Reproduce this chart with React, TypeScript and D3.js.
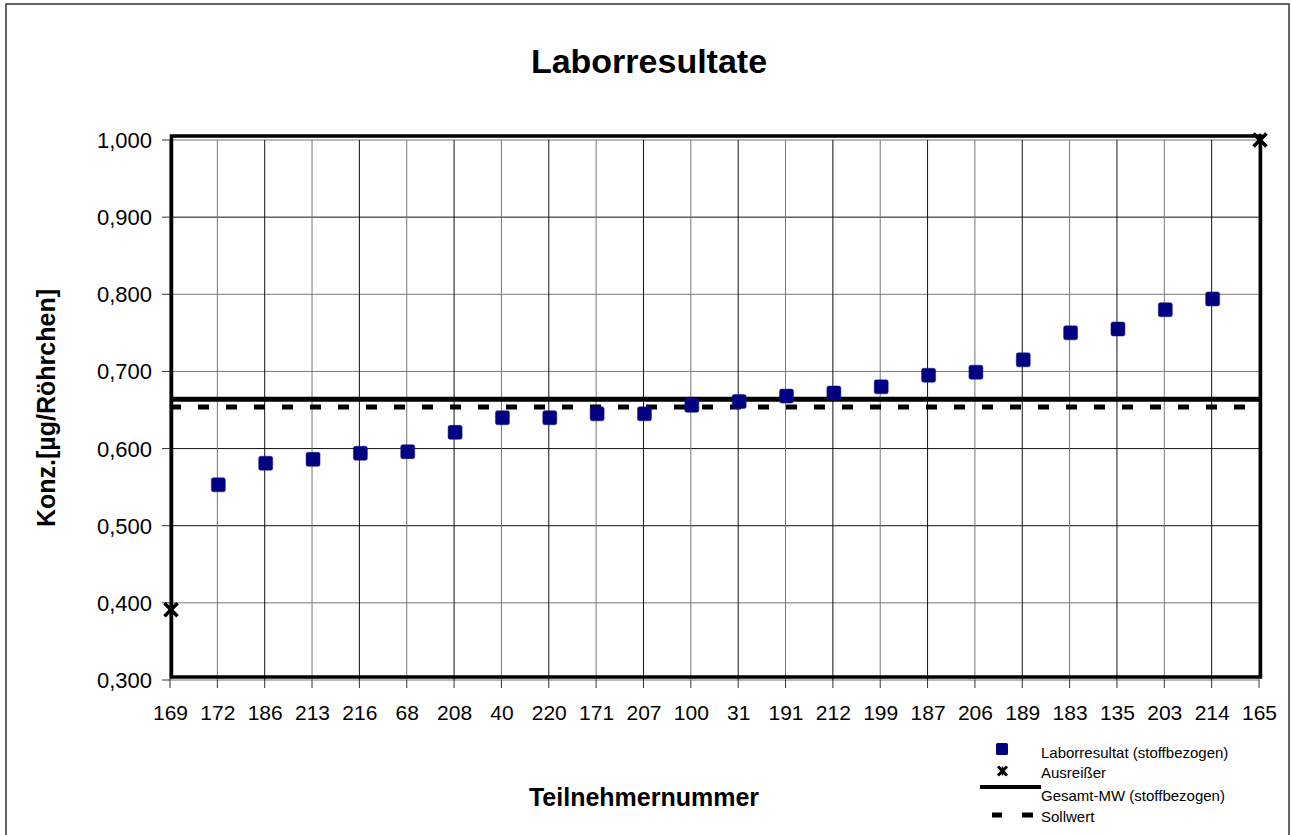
import React from "react";
import * as d3 from "d3";

// Teilnehmer in Reihenfolge der x-Achse
const participants = [
  "169", "172", "186", "213", "216", "68", "208", "40", "220", "171", "207", "100",
  "31", "191", "212", "199", "187", "206", "189", "183", "135", "203", "214", "165",
];

// Laborresultate (stoffbezogen), ohne Ausreißer
const results = [
  { id: "172", value: 0.553 },
  { id: "186", value: 0.581 },
  { id: "213", value: 0.586 },
  { id: "216", value: 0.594 },
  { id: "68", value: 0.596 },
  { id: "208", value: 0.621 },
  { id: "40", value: 0.64 },
  { id: "220", value: 0.64 },
  { id: "171", value: 0.645 },
  { id: "207", value: 0.645 },
  { id: "100", value: 0.656 },
  { id: "31", value: 0.661 },
  { id: "191", value: 0.668 },
  { id: "212", value: 0.672 },
  { id: "199", value: 0.68 },
  { id: "187", value: 0.695 },
  { id: "206", value: 0.699 },
  { id: "189", value: 0.715 },
  { id: "183", value: 0.75 },
  { id: "135", value: 0.755 },
  { id: "203", value: 0.78 },
  { id: "214", value: 0.794 },
];

const outliers = [
  { id: "169", value: 0.391 },
  { id: "165", value: 1.0 },
];

const meanValue = 0.664; // Gesamt-MW (stoffbezogen)
const targetValue = 0.654; // Sollwert

const yTicks = [0.3, 0.4, 0.5, 0.6, 0.7, 0.8, 0.9, 1.0];
const darkRows = [0.9, 0.6, 0.5];

const legendItems = [
  "Laborresultat (stoffbezogen)",
  "Ausreißer",
  "Gesamt-MW (stoffbezogen)",
  "Sollwert",
];

const W = 1291;
const H = 835;
const FONT = "'Liberation Sans', Arial, Helvetica, sans-serif";

const Cross = ({ x, y, s, w }: { x: number; y: number; s: number; w: number }) => (
  <g stroke="#000" strokeWidth={w}>
    <line x1={x - s} y1={y - s} x2={x + s} y2={y + s} />
    <line x1={x - s} y1={y + s} x2={x + s} y2={y - s} />
    <line x1={x} y1={y - s} x2={x} y2={y + s} strokeWidth={w / 2} />
  </g>
);

const App = () => {
  const x = d3.scalePoint<string>().domain(participants).range([170, 1259]);
  const y = d3.scaleLinear().domain([0.3, 1.0]).range([680, 140]);
  const fmt = (v: number) => d3.format(".3f")(v).replace(".", ",");

  const x0 = x(participants[0]) as number;
  const x1 = x(participants[participants.length - 1]) as number;

  const sq = 14;
  const legX = 1002;
  const legTextX = 1041;
  const legBase = [758, 778, 801, 822];

  return (
    <svg
      width={W}
      height={H}
      style={{ position: "absolute", left: 0, top: 0, background: "#fff" }}
      fontFamily={FONT}
    >
      <rect x={6} y={4} width={1283} height={850} fill="#fff" stroke="#333" strokeWidth={1.5} />

      <text x={649} y={73} textAnchor="middle" fontSize={34} fontWeight="bold">
        Laborresultate
      </text>

      {/* Gitternetz */}
      <g>
        {yTicks.map((t) => (
          <line
            key={t}
            x1={x0}
            x2={x1}
            y1={y(t)}
            y2={y(t)}
            stroke={darkRows.includes(t) ? "#111" : "#777"}
            strokeWidth={1}
          />
        ))}
        {participants.map((p, i) => (
          <line
            key={p}
            x1={x(p)}
            x2={x(p)}
            y1={y(1.0)}
            y2={y(0.3)}
            stroke={i % 2 === 0 ? "#111" : "#777"}
            strokeWidth={1}
          />
        ))}
      </g>

      {/* Achsen */}
      <g fontSize={22}>
        {yTicks.map((t) => (
          <g key={t}>
            <line x1={162} x2={x0} y1={y(t)} y2={y(t)} stroke="#333" />
            <text x={152} y={y(t) + 8} textAnchor="end">
              {fmt(t)}
            </text>
          </g>
        ))}
      </g>
      <g fontSize={21}>
        {participants.map((p) => (
          <g key={p}>
            <line x1={x(p)} x2={x(p)} y1={y(0.3)} y2={y(0.3) + 8} stroke="#333" />
            <text x={(x(p) as number) + 0.5} y={720} textAnchor="middle">
              {p}
            </text>
          </g>
        ))}
      </g>

      {/* Rahmen der Zeichnungsfläche */}
      <rect
        x={x0 + 1.5}
        y={y(1.0) - 4}
        width={x1 - x0}
        height={y(0.3) - 3 - (y(1.0) - 4)}
        fill="none"
        stroke="#000"
        strokeWidth={3.5}
      />

      {/* Sollwert & Mittelwert */}
      <line
        x1={x0}
        x2={x1 + 2}
        y1={y(targetValue)}
        y2={y(targetValue)}
        stroke="#000"
        strokeWidth={5}
        strokeDasharray="11 17"
      />
      <line x1={x0} x2={x1 + 2} y1={y(meanValue)} y2={y(meanValue)} stroke="#000" strokeWidth={5} />

      {results.map((d) => (
        <rect
          key={d.id}
          x={(x(d.id) as number) - sq / 2 + 1}
          y={y(d.value) - sq / 2}
          width={sq}
          height={sq}
          rx={2}
          fill="#000080"
          stroke="#1a1a8a"
          strokeWidth={0.5}
        />
      ))}

      {outliers.map((d) => (
        <Cross key={d.id} x={(x(d.id) as number) + 1} y={y(d.value)} s={6.5} w={3.5} />
      ))}

      {/* Achsentitel */}
      <text
        transform={`translate(55,408) rotate(-90)`}
        textAnchor="middle"
        fontSize={25}
        fontWeight="bold"
      >
        Konz.[µg/Röhrchen]
      </text>
      <text x={644} y={806} textAnchor="middle" fontSize={25} fontWeight="bold">
        Teilnehmernummer
      </text>

      {/* Legende */}
      <g fontSize={15}>
        <rect x={legX - 6} y={743} width={12} height={12} rx={1.5} fill="#000080" />
        <Cross x={legX + 0.5} y={771} s={4.5} w={3} />
        <line x1={980} x2={legTextX} y1={787} y2={787} stroke="#000" strokeWidth={4} />
        <line x1={992} x2={1002} y1={815} y2={815} stroke="#000" strokeWidth={5} />
        <line x1={1022} x2={1033} y1={815} y2={815} stroke="#000" strokeWidth={5} />
        {legendItems.map((t, i) => (
          <text key={t} x={legTextX} y={legBase[i]}>
            {t}
          </text>
        ))}
      </g>
    </svg>
  );
};

export default App;
